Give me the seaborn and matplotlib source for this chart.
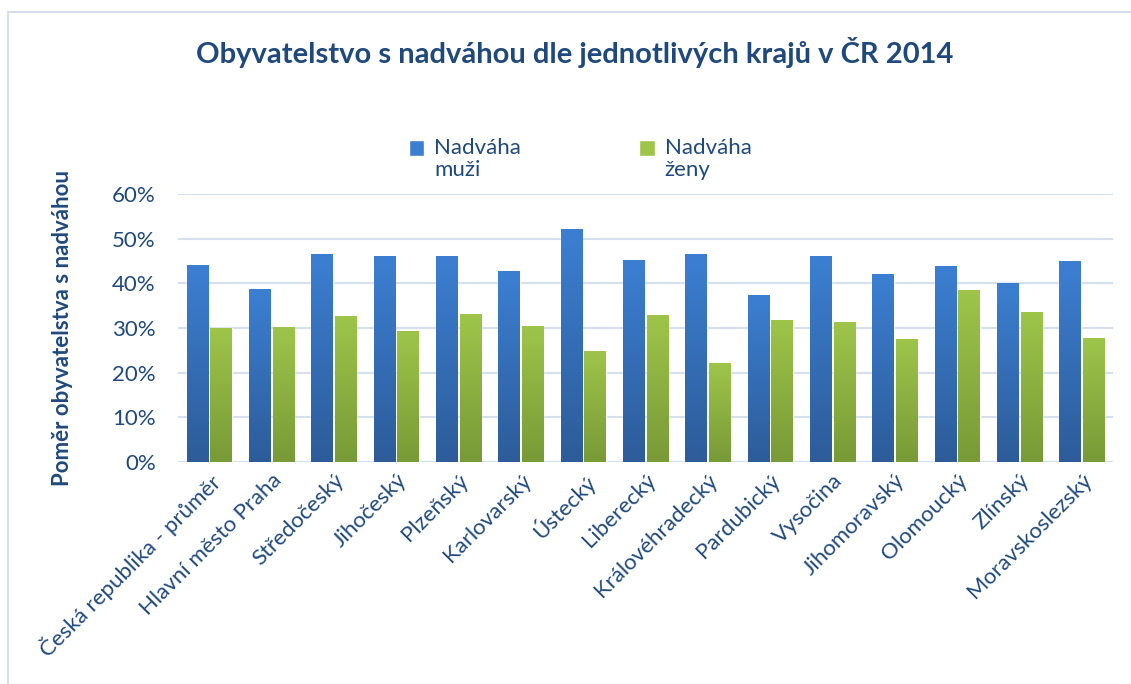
import numpy as np
import pandas as pd
import seaborn as sns
import matplotlib.pyplot as plt
from matplotlib.colors import LinearSegmentedColormap
from matplotlib.patches import Patch, Rectangle
from matplotlib.lines import Line2D
from matplotlib.legend_handler import HandlerPatch
from matplotlib.ticker import PercentFormatter

# hodnoty (v %)
kraje = ['Česká republika - průměr', 'Hlavní město Praha', 'Středočeský', 'Jihočeský',
         'Plzeňský', 'Karlovarský', 'Ústecký', 'Liberecký', 'Královéhradecký',
         'Pardubický', 'Vysočina', 'Jihomoravský', 'Olomoucký', 'Zlínský', 'Moravskoslezský']
muzi = [44.1, 38.7, 46.6, 46.1, 46.1, 42.7, 52.2, 45.2, 46.6, 37.4, 46.1, 42.1, 43.9, 40.1, 45.0]
zeny = [30.0, 30.2, 32.7, 29.3, 33.1, 30.4, 24.8, 32.9, 22.1, 31.8, 31.3, 27.5, 38.5, 33.6, 27.7]
serie = ['Nadváha\nmuži', 'Nadváha\nženy']

TXT = '#1F497D'
GRID = '#D5DFEE'
FS = 16
modra = ('#3C7FD2', '#2D5C99')
zelena = ('#9EC54A', '#789A37')

df = pd.DataFrame({
    'kraj': kraje * 2,
    'podil': muzi + zeny,
    'pohlavi': [serie[0]] * len(kraje) + [serie[1]] * len(kraje),
})

sns.set_style('white')
plt.rcParams['font.family'] = ['Lato', 'DejaVu Sans']

fig = plt.figure(figsize=(11.31, 6.84), dpi=100)
ax = fig.add_axes([0.1574, 0.3246, 0.8266, 0.3918])

sns.barplot(data=df, x='kraj', y='podil', hue='pohlavi', ax=ax,
            palette={serie[0]: modra[0], serie[1]: zelena[0]},
            width=0.76, gap=0.1, legend=False, zorder=3)

# prechod barvy ve sloupcich
grad = np.linspace(0, 1, 256).reshape(-1, 1)
cm_m = LinearSegmentedColormap.from_list('m', [modra[1], modra[0]])
cm_z = LinearSegmentedColormap.from_list('z', [zelena[1], zelena[0]])
n = len(kraje)
for i, p in enumerate(ax.patches[:2 * n]):
    x0, y0 = p.get_x(), p.get_y()
    w, h = p.get_width(), p.get_height()
    cmap = cm_m if i < n else cm_z
    im = ax.imshow(grad, cmap=cmap, extent=[x0, x0 + w, y0, y0 + h],
                   origin='lower', aspect='auto', zorder=4)
    im.set_clip_path(p)

ax.set_xlim(-0.5, n - 0.5)
ax.set_ylim(0, 60)
ax.set_yticks(range(0, 61, 10))
ax.yaxis.set_major_formatter(PercentFormatter(100, decimals=0))
ax.grid(axis='y', color=GRID, linewidth=1.5, zorder=0)
for s in ax.spines.values():
    s.set_visible(False)
ax.axhline(0, color=GRID, linewidth=1.5, zorder=2)

ax.tick_params(axis='both', length=0, colors=TXT, labelsize=FS)
ax.tick_params(axis='y', pad=16)
ax.tick_params(axis='x', pad=6)
ax.set_xticks(range(n))
ax.set_xticklabels(kraje, rotation=45, ha='right', rotation_mode='anchor')
ax.set_xlabel('')
ax.set_ylabel('Poměr obyvatelstva s nadváhou', color=TXT, fontsize=FS,
              fontweight='bold', labelpad=28)

fig.text(0.508, 1 - 52 / 684, 'Obyvatelstvo s nadváhou dle jednotlivých krajů v ČR 2014',
         ha='center', va='center', fontsize=21, fontweight='bold', color=TXT)


# ctverecek legendy zarovnany s prvnim radkem textu
def ctverec(legend, orig_handle, xdescent, ydescent, width, height, fontsize):
    return Rectangle((-xdescent, -ydescent + 0.5 * fontsize), width, height)


handles = [Patch(facecolor=modra[0]), Patch(facecolor=zelena[0])]
leg = fig.legend(handles, serie, loc='center', bbox_to_anchor=(0.513, 1 - 159 / 684),
                 ncol=2, frameon=False, fontsize=FS, handlelength=0.7,
                 handleheight=0.7, handletextpad=0.45, columnspacing=5.3,
                 handler_map={Patch: HandlerPatch(patch_func=ctverec)})
for t in leg.get_texts():
    t.set_color(TXT)
    t.set_linespacing(1.1)

# ramecek grafu
fig.add_artist(Line2D([8 / 1131, 8 / 1131], [0, 1 - 12 / 684], color=GRID, lw=1.5))
fig.add_artist(Line2D([8 / 1131, 1], [1 - 12 / 684, 1 - 12 / 684], color=GRID, lw=1.5))

fig.savefig('out.png', dpi=100)
